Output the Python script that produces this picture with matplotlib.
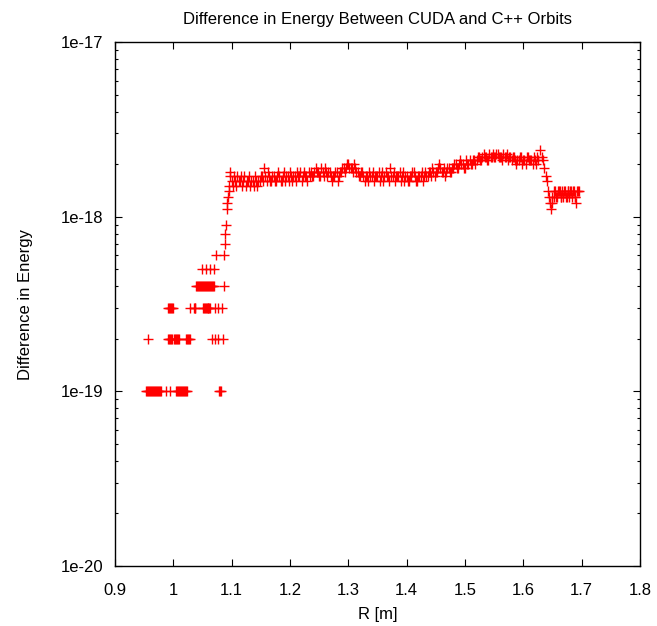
import numpy as np
import matplotlib
matplotlib.use("Agg")
import matplotlib.pyplot as plt
from matplotlib.ticker import LogLocator, FixedLocator, FixedFormatter, NullFormatter

# energy differences are quantised in steps of 1e-19
UNIT = 1e-19

# sparse rows below R = 1.09, one list per level (in units of 1e-19)
row1_r = [0.9531, 0.9548, 0.9566, 0.9583, 0.960, 0.9617, 0.9634, 0.965, 0.967, 0.9686,
          0.970, 0.972, 0.9737, 0.9754, 0.977, 0.9789, 0.9874, 0.9943,
          1.0046, 1.0063, 1.008, 1.0097, 1.0114, 1.0131, 1.0149, 1.0166, 1.0183, 1.020,
          1.0217, 1.0243, 1.0783, 1.0800, 1.0817]
row2_r = [0.957, 0.991, 0.9925, 0.994, 0.996, 0.998, 1.001, 1.0027, 1.005, 1.0063, 1.008,
          1.010, 1.0217, 1.0233, 1.025, 1.0268, 1.0286, 1.0657, 1.0714, 1.0771, 1.0846]
row3_r = [0.991, 0.9925, 0.994, 0.996, 0.9977, 0.9994, 1.0286, 1.035, 1.0367, 1.038,
          1.051, 1.0527, 1.054, 1.0554, 1.057, 1.0587, 1.060, 1.0615, 1.063,
          1.0714, 1.0771, 1.0829]
row4_r = [1.0389, 1.0406, 1.0423, 1.044, 1.0457, 1.0474, 1.0491, 1.0509, 1.0526, 1.0543,
          1.056, 1.0577, 1.0594, 1.0611, 1.0629, 1.0646, 1.0663, 1.068, 1.0697, 1.0874]
row5_r = [1.0486, 1.056, 1.0629, 1.0697]
row6_r = [1.0731, 1.0869]
row7_r = [1.0886]

# steep rise near R = 1.09
rise_r = [1.0890, 1.0903, 1.0914, 1.0926, 1.0943, 1.095, 1.096, 1.097, 1.098]
rise_e = [8, 9, 11, 12, 13, 14, 15, 17, 18]

# main band, two interleaved sets of samples
band_r = [1.100, 1.104, 1.108, 1.112, 1.116, 1.120, 1.124, 1.128,
          1.132, 1.136, 1.140, 1.144, 1.148,
          1.152, 1.156, 1.160, 1.164,
          1.168, 1.172, 1.176, 1.180, 1.184, 1.188, 1.192, 1.196, 1.200, 1.204,
          1.208, 1.212, 1.216, 1.220, 1.224, 1.228, 1.232,
          1.236, 1.240, 1.244, 1.248, 1.252, 1.256, 1.260,
          1.264, 1.268, 1.272, 1.276, 1.280, 1.284,
          1.288, 1.292, 1.296, 1.300, 1.304, 1.308, 1.312,
          1.316, 1.320, 1.324, 1.328, 1.332, 1.336, 1.340, 1.344, 1.348, 1.352,
          1.356, 1.360, 1.364, 1.368, 1.372, 1.376, 1.380, 1.384, 1.388, 1.392, 1.396,
          1.400, 1.404, 1.408, 1.412, 1.416, 1.420, 1.424, 1.428, 1.432, 1.436,
          1.440, 1.444, 1.448, 1.452, 1.456, 1.460, 1.464, 1.468, 1.472, 1.476,
          1.480, 1.484, 1.488, 1.492, 1.496, 1.500, 1.504, 1.508, 1.512, 1.516,
          1.520, 1.524, 1.528, 1.532, 1.536, 1.540, 1.544, 1.548,
          1.552, 1.556, 1.560, 1.564, 1.568, 1.572, 1.576,
          1.580, 1.584, 1.588, 1.592, 1.596, 1.600, 1.604, 1.608, 1.612, 1.616, 1.620, 1.624]
band_e = [16, 17, 15, 16, 17, 16, 15, 16,
          15, 16, 17, 15, 16,
          17, 19, 16, 17,
          16, 17, 16, 18, 16, 17, 16, 17, 18, 16,
          17, 18, 17, 16, 18, 17, 18,
          18, 17, 19, 18, 17, 18, 19,
          17, 18, 16, 17, 18, 17,
          18, 19, 19, 20, 19, 18, 19,
          18, 17, 18, 16, 17, 18, 17, 16, 17, 18,
          17, 16, 18, 17, 19, 17, 16, 17, 18, 17, 16,
          17, 16, 17, 18, 16, 17, 17, 16, 18, 17,
          18, 19, 17, 18, 20, 18, 19, 18, 19, 18,
          19, 20, 19, 21, 20, 19, 20, 21, 20, 21,
          21, 22, 21, 23, 22, 21, 22, 23,
          22, 23, 22, 21, 22, 23, 22,
          21, 22, 20, 21, 22, 21, 20, 22, 21, 20, 21, 22]
band2_r = [1.102, 1.106, 1.110, 1.114, 1.118, 1.122, 1.126, 1.130,
           1.134, 1.138, 1.142, 1.146, 1.150,
           1.154, 1.158, 1.162, 1.166,
           1.170, 1.174, 1.178, 1.182, 1.186, 1.190, 1.194, 1.198, 1.202, 1.206,
           1.210, 1.214, 1.218, 1.222, 1.226, 1.230, 1.234,
           1.238, 1.242, 1.246, 1.250, 1.254, 1.258, 1.262,
           1.266, 1.270, 1.274, 1.278, 1.282, 1.286,
           1.290, 1.294, 1.298, 1.302, 1.306, 1.310, 1.314,
           1.318, 1.322, 1.326, 1.330, 1.334, 1.338, 1.342, 1.346, 1.350, 1.354,
           1.358, 1.362, 1.366, 1.370, 1.374, 1.378, 1.382, 1.386, 1.390, 1.394, 1.398,
           1.402, 1.406, 1.410, 1.414, 1.418, 1.422, 1.426, 1.430, 1.434, 1.438,
           1.442, 1.446, 1.450, 1.454, 1.458, 1.462, 1.466, 1.470, 1.474, 1.478,
           1.482, 1.486, 1.490, 1.494, 1.498, 1.502, 1.506, 1.510, 1.514, 1.518,
           1.522, 1.526, 1.530, 1.534, 1.538, 1.542, 1.546, 1.550,
           1.554, 1.558, 1.562, 1.566, 1.570, 1.574, 1.578,
           1.582, 1.586, 1.590, 1.594, 1.598, 1.602, 1.606, 1.610, 1.614, 1.618, 1.622, 1.626]
band2_e = [15, 16, 17, 16, 15, 17, 16, 17,
           16, 15, 16, 16, 17,
           16, 17, 18, 16,
           17, 16, 17, 17, 16, 18, 17, 16, 17, 17,
           16, 17, 18, 17, 17, 16, 17,
           17, 18, 18, 17, 19, 17, 18,
           18, 17, 17, 18, 16, 18,
           19, 18, 20, 19, 19, 20, 18,
           17, 18, 17, 17, 16, 17, 18, 17, 17, 16,
           18, 17, 17, 16, 17, 18, 17, 17, 16, 18, 17,
           16, 17, 18, 17, 16, 17, 18, 17, 17, 18,
           17, 18, 18, 19, 19, 18, 17, 19, 18, 19,
           20, 19, 20, 20, 19, 21, 20, 20, 21, 20,
           22, 21, 22, 22, 21, 23, 22, 22,
           23, 22, 22, 23, 22, 21, 22,
           22, 21, 21, 22, 20, 21, 22, 21, 21, 22, 20, 21]

# drop after the peak and the plateau at the end
drop_r = [1.6286, 1.6315, 1.6343, 1.636, 1.6384, 1.6401, 1.6418, 1.644, 1.6457, 1.6469]
drop_e = [24, 22, 21, 19, 17, 16, 14, 13, 12, 11]
plat_r = [1.649, 1.652, 1.655, 1.658, 1.661, 1.664, 1.667, 1.670, 1.673, 1.676,
          1.679, 1.682, 1.685, 1.688, 1.691, 1.694,
          1.650, 1.6535, 1.6565, 1.6595, 1.6625, 1.6655, 1.6685, 1.6715, 1.6745,
          1.6775, 1.6805, 1.6835, 1.6865, 1.6895, 1.6925, 1.695]
plat_e = [12, 13, 14, 13, 14, 13, 14, 14, 13, 14, 13, 14, 14, 13, 12, 14,
          13, 14, 13, 14, 14, 13, 13, 14, 13, 14, 14, 13, 14, 13, 14, 14]

ytick_vals = [1e-20, 1e-19, 1e-18, 1e-17]
ytick_labels = ["1e-20", "1e-19", "1e-18", "1e-17"]
xtick_vals = [0.9, 1.0, 1.1, 1.2, 1.3, 1.4, 1.5, 1.6, 1.7, 1.8]
xtick_labels = ["0.9", "1", "1.1", "1.2", "1.3", "1.4", "1.5", "1.6", "1.7", "1.8"]

plt.rcParams["font.family"] = ["Liberation Sans", "DejaVu Sans"]
plt.rcParams["font.size"] = 12

fig = plt.figure(figsize=(6.57, 6.26), dpi=100)
ax = fig.add_axes([0.175, 0.0958, 0.799, 0.837])

low_r = row1_r + row2_r + row3_r + row4_r + row5_r + row6_r + row7_r
low_e = ([1] * len(row1_r) + [2] * len(row2_r) + [3] * len(row3_r) + [4] * len(row4_r)
         + [5] * len(row5_r) + [6] * len(row6_r) + [7] * len(row7_r))

r = np.concatenate([low_r, rise_r, band_r, band2_r, drop_r, plat_r])
e = np.concatenate([low_e, rise_e, band_e, band2_e, drop_e, plat_e]) * UNIT
ax.plot(r, e, linestyle="none", marker="+", color="red", markersize=7, markeredgewidth=1.0)

ax.set_yscale("log")
ax.set_xlim(0.9, 1.8)
ax.set_ylim(1e-20, 1e-17)
ax.yaxis.set_major_locator(FixedLocator(ytick_vals))
ax.yaxis.set_major_formatter(FixedFormatter(ytick_labels))
ax.yaxis.set_minor_locator(LogLocator(base=10, subs=np.arange(2, 10)))
ax.yaxis.set_minor_formatter(NullFormatter())
ax.xaxis.set_major_locator(FixedLocator(xtick_vals))
ax.xaxis.set_major_formatter(FixedFormatter(xtick_labels))

ax.tick_params(which="both", direction="in", top=True, right=True)
ax.tick_params(which="major", length=5, width=0.8)
ax.tick_params(which="minor", length=2.5, width=0.8)
ax.tick_params(axis="x", which="major", pad=12)
ax.tick_params(axis="y", which="major", pad=8.5)
for s in ax.spines.values():
    s.set_linewidth(1.0)

ax.set_title("Difference in Energy Between CUDA and C++ Orbits", pad=13, fontsize=12)
ax.set_xlabel("R [m]", labelpad=7)
ax.set_ylabel("Difference in Energy", labelpad=20)

fig.savefig("out.png", dpi=100)
